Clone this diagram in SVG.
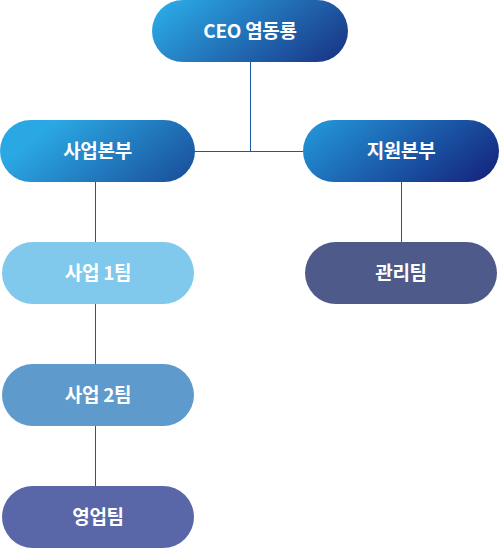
<svg xmlns="http://www.w3.org/2000/svg" width="499" height="548" viewBox="0 0 499 548">
<defs>
<linearGradient id="gCeo" x1="0" y1="0.3" x2="1" y2="0.7">
<stop offset="0" stop-color="#2aa6e2"/>
<stop offset="1" stop-color="#1a3b8b"/>
</linearGradient>
<linearGradient id="gBiz" x1="0" y1="0.3" x2="1" y2="0.7">
<stop offset="0.15" stop-color="#2aa8e3"/>
<stop offset="1" stop-color="#1b55a0"/>
</linearGradient>
<linearGradient id="gSup" x1="0" y1="0.3" x2="1" y2="0.7">
<stop offset="0" stop-color="#2290d4"/>
<stop offset="1" stop-color="#152a82"/>
</linearGradient>
<style>
.lbl{font-family:"Noto Sans CJK KR","Noto Sans",sans-serif;font-weight:700;font-size:19px;fill:#ffffff;text-anchor:middle;letter-spacing:-0.3px}
.ln{stroke:#1c5aa0;stroke-width:1;fill:none}
</style>
</defs>
<g id="connectors">
<path class="ln" d="M250.5 62V151.5M195 151.5H303"/>
<path class="ln" d="M95.5 182V242M95.5 304V364M95.5 426V486"/>
<path class="ln" d="M401.5 182V242"/>
</g>
<g id="ceo">
<rect x="152" y="0" width="196" height="62" rx="31" fill="url(#gCeo)"/>
<text class="lbl" x="250" y="38">CEO 염동룡</text>
</g>
<g id="biz-hq">
<rect x="0" y="120" width="195" height="62" rx="31" fill="url(#gBiz)"/>
<text class="lbl" x="97.5" y="158">사업본부</text>
</g>
<g id="support-hq">
<rect x="303" y="120" width="196" height="62" rx="31" fill="url(#gSup)"/>
<text class="lbl" x="401" y="158">지원본부</text>
</g>
<g id="biz-team1">
<rect x="2" y="242" width="192" height="62" rx="31" fill="#80c9ed"/>
<text class="lbl" x="98" y="280">사업 1팀</text>
</g>
<g id="admin-team">
<rect x="305" y="242" width="192" height="62" rx="31" fill="#4e5a8a"/>
<text class="lbl" x="401" y="280">관리팀</text>
</g>
<g id="biz-team2">
<rect x="2" y="364" width="192" height="62" rx="31" fill="#5e9acb"/>
<text class="lbl" x="98" y="402">사업 2팀</text>
</g>
<g id="sales-team">
<rect x="2" y="486" width="192" height="62" rx="31" fill="#5967a9"/>
<text class="lbl" x="98" y="524">영업팀</text>
</g>
</svg>
